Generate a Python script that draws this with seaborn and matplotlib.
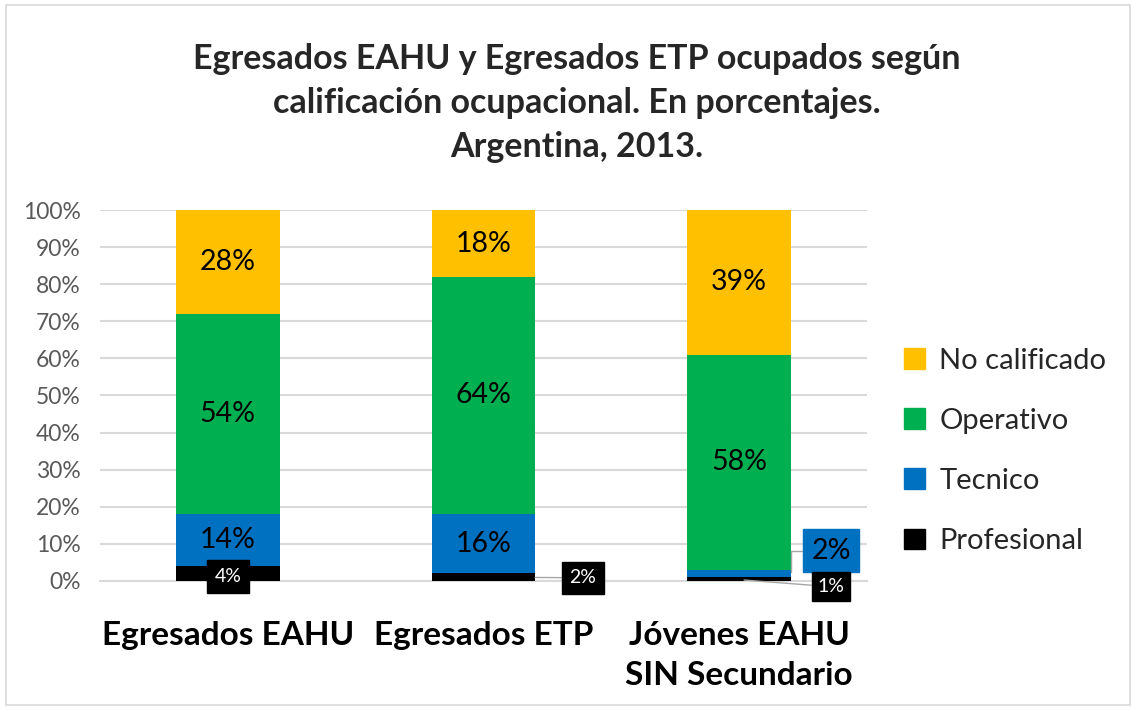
import numpy as np
import pandas as pd
import matplotlib.pyplot as plt
import seaborn as sns
from matplotlib.patches import Patch, Rectangle

# ---- Data (percent of employed)
groups = ["Egresados EAHU", "Egresados ETP", "Jóvenes EAHU\nSIN Secundario"]
profesional = [4, 2, 1]
tecnico = [14, 16, 2]
operativo = [54, 64, 58]
no_calificado = [28, 18, 39]

series_names = ["No calificado", "Operativo", "Tecnico", "Profesional"]
colors = {"No calificado": "#FFC000", "Operativo": "#00B050",
          "Tecnico": "#0070C0", "Profesional": "#000000"}

sns.set_theme(style="white")
plt.rcParams["font.family"] = ["Lato", "DejaVu Sans"]

df = pd.DataFrame({"grupo": groups, "Profesional": profesional, "Tecnico": tecnico,
                   "Operativo": operativo, "No calificado": no_calificado})
# cumulative tops, drawn largest first so smaller stacks sit on top
df["cum_prof"] = df["Profesional"]
df["cum_tec"] = df["cum_prof"] + df["Tecnico"]
df["cum_op"] = df["cum_tec"] + df["Operativo"]
df["cum_nc"] = df["cum_op"] + df["No calificado"]

fig = plt.figure(figsize=(11.36, 7.1), dpi=100)
ax = fig.add_axes([0.088, 0.182, 0.675, 0.522])

width = 0.405
for col, name in [("cum_nc", "No calificado"), ("cum_op", "Operativo"),
                  ("cum_tec", "Tecnico"), ("cum_prof", "Profesional")]:
    sns.barplot(data=df, x="grupo", y=col, color=colors[name], width=width,
                saturation=1, ax=ax, zorder=3, linewidth=0)

ax.set_ylim(0, 100)
ax.set_xlim(-0.5, 2.5)
ax.set_yticks(np.arange(0, 101, 10))
ax.set_yticklabels([f"{v}%" for v in range(0, 101, 10)], color="#595959", fontsize=16.5)
ax.yaxis.grid(True, color="#d9d9d9", linewidth=1.5, zorder=0)
ax.set_axisbelow(True)
for s in ax.spines.values():
    s.set_visible(False)
ax.spines["bottom"].set_visible(True)
ax.spines["bottom"].set_color("#d9d9d9")
ax.spines["bottom"].set_linewidth(1.5)
ax.tick_params(axis="y", length=0, pad=14)
ax.tick_params(axis="x", length=0, pad=29)
ax.set_xticks(range(len(groups)))
ax.set_xticklabels(groups, fontsize=24, fontweight="bold", color="black", linespacing=1.45)
ax.set_xlabel("")
ax.set_ylabel("")

# ---- In-bar labels for the large segments
for i in range(len(groups)):
    segs = [("No calificado", df.loc[i, "cum_op"], df.loc[i, "No calificado"]),
            ("Operativo", df.loc[i, "cum_tec"], df.loc[i, "Operativo"])]
    if i < 2:
        segs.append(("Tecnico", df.loc[i, "cum_prof"], df.loc[i, "Tecnico"]))
    for name, base, val in segs:
        ax.text(i, base + val / 2, f"{val}%", ha="center", va="center",
                fontsize=20.5, color="black", zorder=5)

# ---- Callout labels for small segments
box_dark = dict(boxstyle="square,pad=0.4", fc="black", ec="black")
ax.text(0, 1.1, f"{profesional[0]}%", ha="center", va="center", fontsize=14,
        color="white", bbox=box_dark, zorder=6, clip_on=False)

ax.annotate(f"{profesional[1]}%", xy=(1 + width / 2, 0.9), xytext=(1.39, 0.8),
            ha="center", va="center", fontsize=14, color="white", bbox=box_dark,
            arrowprops=dict(arrowstyle="-", color="#a6a6a6", lw=1,
                            shrinkA=0, shrinkB=0),
            zorder=6, annotation_clip=False)

ax.annotate(f"{tecnico[2]}%", xy=(2 + width / 2, 2.5), xytext=(2.36, 8.1),
            ha="center", va="center", fontsize=20.5, color="black",
            bbox=dict(boxstyle="square,pad=0.3", fc=colors["Tecnico"], ec=colors["Tecnico"]),
            arrowprops=dict(arrowstyle="-", color="#a6a6a6", lw=1, shrinkA=0, shrinkB=0,
                            connectionstyle="angle,angleA=0,angleB=90,rad=0"),
            zorder=6, annotation_clip=False)

ax.annotate(f"{profesional[2]}%", xy=(2.02, 0.2), xytext=(2.36, -1.6),
            ha="center", va="center", fontsize=14, color="white",
            bbox=dict(boxstyle="square,pad=0.3", fc="black", ec="black"),
            arrowprops=dict(arrowstyle="-", color="#a6a6a6", lw=1, shrinkA=0, shrinkB=0),
            zorder=6, annotation_clip=False)

# ---- Legend
handles = [Patch(facecolor=colors[n], edgecolor=colors[n], label=n) for n in series_names]
fig.legend(handles=handles, loc="center left", bbox_to_anchor=(0.773, 0.365),
           frameon=False, fontsize=21, handlelength=0.7, handleheight=0.7,
           handletextpad=0.5, labelspacing=1.17)

# ---- Title
fig.text(0.508, 0.855, "Egresados EAHU y Egresados ETP ocupados según\n"
         "calificación ocupacional. En porcentajes.\nArgentina, 2013.",
         ha="center", va="center", fontsize=24.5, fontweight="bold", linespacing=1.45)

# chart border
fig.patches.append(Rectangle((0.005, 0.007), 0.99, 0.986, transform=fig.transFigure,
                             fill=False, edgecolor="#d9d9d9", linewidth=1.2))

fig.savefig("out.png", dpi=100)
